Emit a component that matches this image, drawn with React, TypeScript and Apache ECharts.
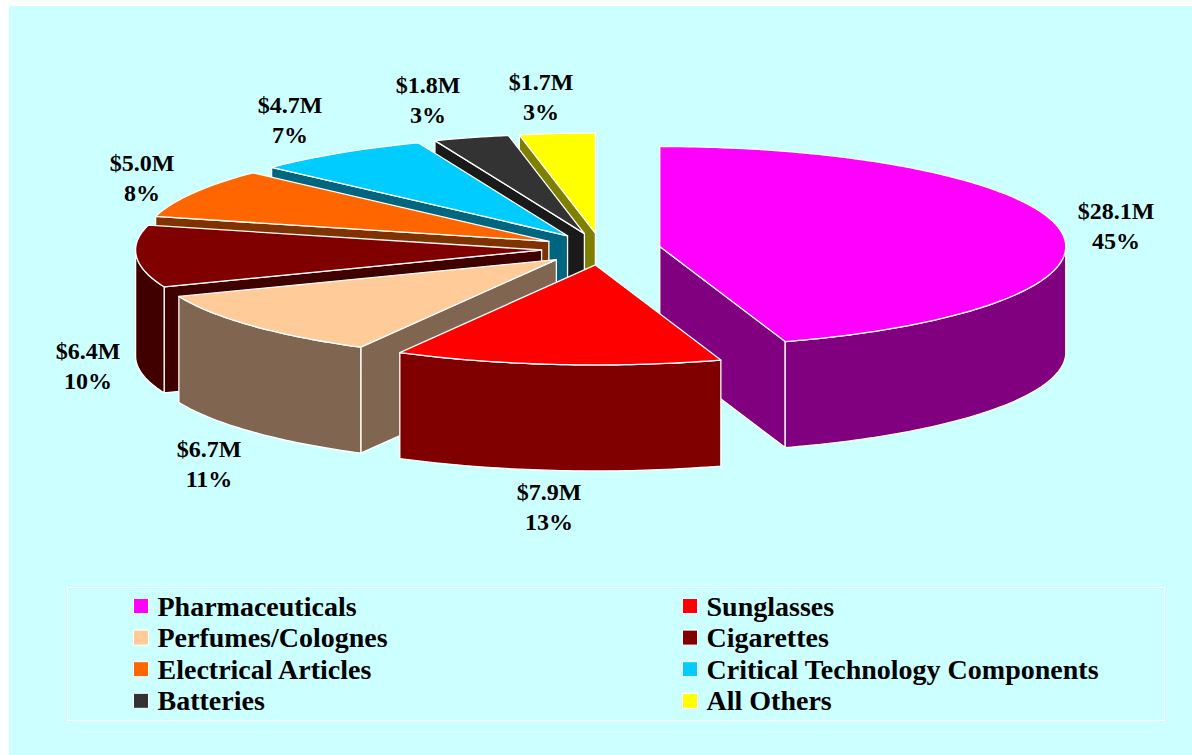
import React, { useEffect, useRef } from "react";
import * as echarts from "echarts";

const categories = ["Pharmaceuticals", "Sunglasses", "Perfumes/Colognes", "Cigarettes", "Electrical Articles", "Critical Technology Components", "Batteries", "All Others"];
const dollarLabels = ["$28.1M", "$7.9M", "$6.7M", "$6.4M", "$5.0M", "$4.7M", "$1.8M", "$1.7M"];
const percents = [45, 13, 11, 10, 8, 7, 3, 3];
const topColors = ["#FF00FF", "#FF0000", "#FFCC99", "#800000", "#FF6600", "#00CCFF", "#333333", "#FFFF00"];
const wallColors = ["#800080", "#800000", "#806650", "#400000", "#803300", "#006680", "#1A1A1A", "#808000"];
const drawOrder = [7, 6, 5, 4, 3, 0, 2, 1];
const labelCenters = [[1116, 226], [549, 507], [209, 464], [88, 366], [142, 178], [290, 120], [428, 100], [541, 97]];
const leftLegend = [0, 2, 4, 6].map((i) => categories[i]);
const rightLegend = [1, 3, 5, 7].map((i) => categories[i]);

const CX = 601, CY = 249, RX = 406, RY = 100, DEPTH = 106, EXPLODE_X = 59.5, EXPLODE_Y = 16;
const rad = (d: number) => (d * Math.PI) / 180;

function sliceRenderer(index: number) {
  const before = percents.slice(0, index).reduce((a, b) => a + b, 0);
  return (_params: any, api: any) => {
    const a0 = (before / 100) * 360;
    const a1 = a0 + (api.value(0) / 100) * 360;
    const mid = rad((a0 + a1) / 2);
    const ax = CX + EXPLODE_X * Math.sin(mid);
    const ay = CY - EXPLODE_Y * Math.cos(mid);
    const pt = (deg: number, dz = 0) => [ax + RX * Math.sin(rad(deg)), ay - RY * Math.cos(rad(deg)) + dz];
    const arc = (from: number, to: number, dz = 0) => {
      const pts: number[][] = [];
      const n = Math.max(1, Math.ceil(Math.abs(to - from)));
      for (let i = 0; i <= n; i++) pts.push(pt(from + ((to - from) * i) / n, dz));
      return pts;
    };
    const edge = { stroke: "#FFFFFF", lineWidth: 1.3, lineJoin: "round" };
    const children: any[] = [];
    const wall = wallColors[index];
    const face = (points: number[][], fill: string) =>
      children.push({ type: "polygon", shape: { points }, style: { fill, ...edge } });
    if (Math.sin(rad(a0)) < -1e-6) {
      face([[ax, ay], pt(a0), pt(a0, DEPTH), [ax, ay + DEPTH]], wall);
    }
    if (Math.sin(rad(a1)) > 1e-6) {
      face([[ax, ay], pt(a1), pt(a1, DEPTH), [ax, ay + DEPTH]], wall);
    }
    const w0 = Math.max(a0, 90), w1 = Math.min(a1, 270);
    if (w1 > w0) face([...arc(w0, w1), ...arc(w1, w0, DEPTH)], wall);
    face([[ax, ay], ...arc(a0, a1)], topColors[index]);
    return { type: "group", children };
  };
}

function labelRenderer() {
  return {
    type: "group",
    children: categories.map((_, i) => ({
      type: "text",
      style: {
        x: labelCenters[i][0],
        y: labelCenters[i][1],
        text: `${dollarLabels[i]}\n${percents[i]}%`,
        align: "center",
        verticalAlign: "middle",
        lineHeight: 30,
        fill: "#000000",
        font: 'bold 24px "Liberation Serif"',
      },
    })),
  };
}

const legendBase = {
  orient: "vertical" as const,
  top: 592,
  itemWidth: 15,
  itemHeight: 15,
  itemGap: 3.6,
  padding: 0,
  icon: "rect",
  selectedMode: false,
  itemStyle: { borderColor: "#FFFFFF", borderWidth: 1 },
  textStyle: {
    color: "#000000",
    fontFamily: "Liberation Serif",
    fontWeight: "bold" as const,
    fontSize: 28,
    lineHeight: 28,
    padding: [0, 0, 0, 4],
  },
};

export default function App() {
  const ref = useRef<HTMLDivElement>(null);
  useEffect(() => {
    document.body.style.margin = "0";
    const chart = echarts.init(ref.current!, null, { renderer: "svg" });
    chart.setOption({
      animation: false,
      backgroundColor: "#FFFFFF",
      graphic: [
        { type: "rect", z: -2, shape: { x: 9, y: 6, width: 1183, height: 749 }, style: { fill: "#CCFFFF" } },
        { type: "rect", z: -1, shape: { x: 67.5, y: 587.5, width: 1097, height: 133 }, style: { fill: "transparent", stroke: "#FFFFFF", lineWidth: 1.2 } },
      ],
      legend: [
        { ...legendBase, left: 133, data: leftLegend },
        { ...legendBase, left: 682, data: rightLegend },
      ],
      series: [
        ...drawOrder.map((i) => ({
          type: "custom",
          name: categories[i],
          coordinateSystem: "none",
          silent: true,
          clip: false,
          itemStyle: { color: topColors[i] },
          data: [[percents[i]]],
          renderItem: sliceRenderer(i),
        })),
        {
          type: "custom",
          name: "labels",
          coordinateSystem: "none",
          silent: true,
          data: [[0]],
          renderItem: labelRenderer,
          z: 5,
        },
      ],
    });
    return () => chart.dispose();
  }, []);
  return <div ref={ref} style={{ width: 1192, height: 755 }} />;
}
